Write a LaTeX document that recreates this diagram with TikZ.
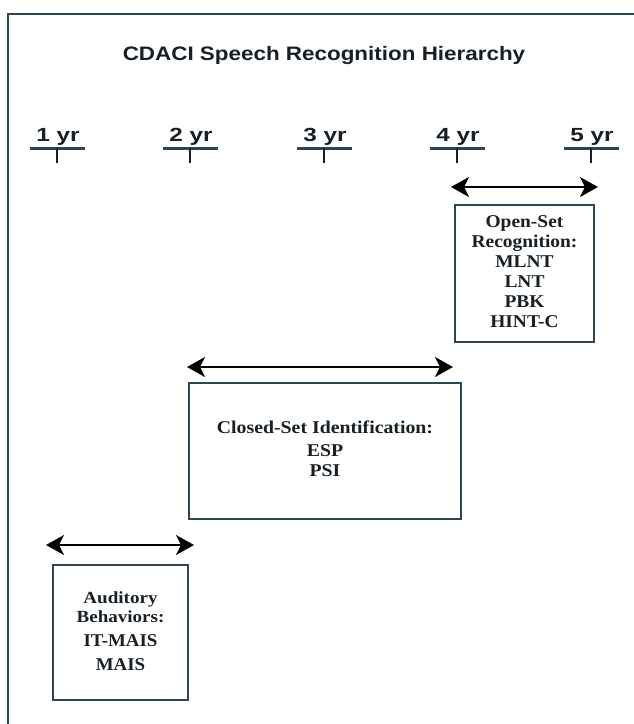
\documentclass[tikz,border=0pt]{standalone}
\usepackage{fontspec}
\setmainfont{Liberation Serif}
\setsansfont{Liberation Sans}
\usetikzlibrary{arrows.meta}
\definecolor{slate}{RGB}{44,70,82}
\definecolor{ink}{RGB}{22,32,38}
\begin{document}
\begin{tikzpicture}[x=1pt,y=-1pt,
  frame/.style={slate, line width=2.5pt},
  tickline/.style={slate, line width=3pt},
  tickmark/.style={ink, line width=1.6pt},
  span/.style={black, line width=2pt, {Stealth[length=18pt,width=20pt,inset=5pt]}-{Stealth[length=18pt,width=20pt,inset=5pt]}},
  box/.style={draw=slate, line width=2.4pt, text=ink, font=\fontsize{18}{20}\selectfont\bfseries, align=center, inner sep=0pt},
  yrlabel/.style={text=ink, font=\sffamily\bfseries\fontsize{19}{22}\selectfont, anchor=base, inner sep=0pt},
  titlelabel/.style={text=ink, font=\sffamily\bfseries\fontsize{19.5}{22}\selectfont, anchor=base, inner sep=0pt}
]
\useasboundingbox (0,0) rectangle (634,724);
\fill[white] (0,0) rectangle (634,724);
% frame (top and left only)
\coordinate (fbl) at (8,726);
\coordinate (ftl) at (8,14);
\coordinate (ftr) at (636,14);
\draw[frame] (fbl) -- (ftl) -- (ftr);
% title
\node[titlelabel] (title) at (324,60) {\scalebox{1.15}[1]{CDACI Speech Recognition Hierarchy}};
% year ticks
\foreach \i/\x in {1/57,2/190,3/324,4/457,5/591} {
  \coordinate (t\i) at (\x,148);
  \coordinate (tl\i) at (\x-27,148);
  \coordinate (tr\i) at (\x+28,148);
  \coordinate (tb\i) at (\x,163);
  \draw[tickline] (tl\i) -- (tr\i);
  \draw[tickmark] (t\i) -- (tb\i);
  \node[yrlabel] (y\i) at (\x+1,141) {\scalebox{1.28}[1]{\i\ yr}};
}
% open-set
\coordinate (oa) at (451,187);
\coordinate (ob) at (598,187);
\draw[span] (oa) -- (ob);
\node[box, minimum width=139pt, minimum height=137pt] (open) at (524.5,273.5)
  {\scalebox{1.08}[1]{\begin{tabular}{@{}c@{}}Open-Set\\Recognition:\\MLNT\\LNT\\PBK\\HINT-C\end{tabular}}};
% closed-set
\coordinate (ca) at (187,367);
\coordinate (cb) at (453,367);
\draw[span] (ca) -- (cb);
\node[box, minimum width=272pt, minimum height=136pt] (closed) at (325,451)
  {\scalebox{1.1}[1]{\begin{tabular}{@{}c@{}}Closed-Set Identification:\\[3pt]ESP\\PSI\end{tabular}}};
% auditory
\coordinate (aa) at (46,545);
\coordinate (ab) at (194,545);
\draw[span] (aa) -- (ab);
\node[box, minimum width=135pt, minimum height=135pt] (aud) at (120.5,632.5)
  {\begin{tabular}{@{}c@{}}{\fontsize{17}{18}\selectfont\scalebox{1.12}[1]{Auditory}}\\[-1pt]{\fontsize{17}{18}\selectfont\scalebox{1.12}[1]{Behaviors:}}\\[4pt]\scalebox{1.05}[1]{IT-MAIS}\\[4pt]\scalebox{1.05}[1]{MAIS}\end{tabular}};
\end{tikzpicture}
\end{document}
